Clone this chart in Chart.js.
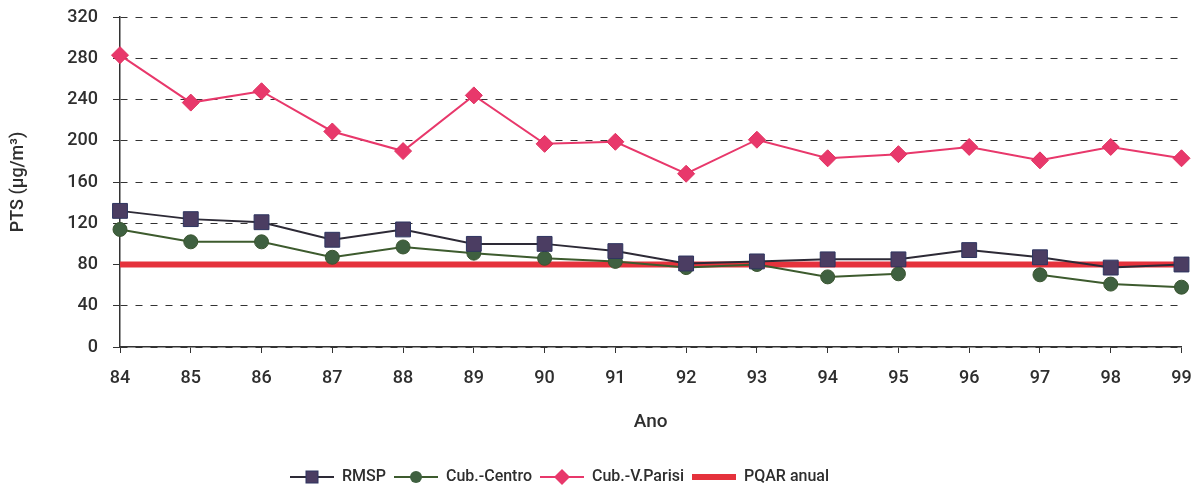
<!DOCTYPE html>
<html>
<head>
<meta charset="utf-8">
<script src="https://cdn.jsdelivr.net/npm/chart.js@4.4.1/dist/chart.umd.min.js"></script>
<style>
  html, body { margin: 0; padding: 0; background: #fff; }
  #wrap { width: 1193px; height: 490px; }
</style>
</head>
<body>
<div id="wrap"><canvas id="ptsChart"></canvas></div>
<script>
const years = ['84', '85', '86', '87', '88', '89', '90', '91', '92', '93', '94', '95', '96', '97', '98', '99'];
const rmsp = [132, 124, 121, 104, 114, 100, 100, 93, 81, 83, 85, 85, 94, 87, 77, 80];
const cubCentro = [114, 102, 102, 87, 97, 91, 86, 83, 77, 80, 68, 71, null, 70, 61, 58];
const cubParisi = [283, 237, 248, 209, 190, 244, 197, 199, 168, 201, 183, 187, 194, 181, 194, 183];
const pqar = [80, 80, 80, 80, 80, 80, 80, 80, 80, 80, 80, 80, 80, 80, 80, 80];
const yTicks = [0, 40, 80, 120, 160, 200, 240, 280, 320];

const textColor = '#2e2e2e';
const fontFamily = 'Roboto, "Noto Sans", sans-serif';

// small canvas used as legend symbol: a line with the marker on it
function legendIcon(lineColor, lineWidth, marker) {
    const c = document.createElement('canvas');
    c.width = 44;
    c.height = 18;
    const g = c.getContext('2d');
    g.strokeStyle = lineColor;
    g.lineWidth = lineWidth;
    g.beginPath();
    g.moveTo(0, 9);
    g.lineTo(44, 9);
    g.stroke();
    if (marker) marker(g);
    return c;
}

const icons = [
    legendIcon('#2d2a36', 2, g => {
        g.fillStyle = '#4b3d62';
        g.strokeStyle = '#2e3560';
        g.lineWidth = 1;
        g.fillRect(16, 3, 12, 12);
        g.strokeRect(16, 3, 12, 12);
    }),
    legendIcon('#3d5b2e', 2, g => {
        g.fillStyle = '#3f6040';
        g.beginPath();
        g.arc(22, 9, 6, 0, Math.PI * 2);
        g.fill();
    }),
    legendIcon('#e8386b', 2, g => {
        g.fillStyle = '#e8386b';
        g.beginPath();
        g.moveTo(22, 1);
        g.lineTo(30, 9);
        g.lineTo(22, 17);
        g.lineTo(14, 9);
        g.closePath();
        g.fill();
    }),
    legendIcon('#e5323c', 6, null)
];

const ctx = document.getElementById('ptsChart').getContext('2d');

new Chart(ctx, {
    type: 'line',
    data: {
        labels: years,
        datasets: [
            {
                label: 'RMSP',
                data: rmsp,
                borderColor: '#2d2a36',
                borderWidth: 2,
                pointStyle: 'rect',
                pointRadius: 10.5,
                pointBackgroundColor: '#4b3d62',
                pointBorderColor: '#2e3560',
                pointBorderWidth: 1,
                tension: 0
            },
            {
                label: 'Cub.-Centro',
                data: cubCentro,
                borderColor: '#3d5b2e',
                borderWidth: 2,
                pointStyle: 'circle',
                pointRadius: 7,
                pointBackgroundColor: '#3f6040',
                pointBorderColor: '#3a5530',
                pointBorderWidth: 1,
                spanGaps: false,
                tension: 0
            },
            {
                label: 'Cub.-V.Parisi',
                data: cubParisi,
                borderColor: '#e8386b',
                borderWidth: 2,
                pointStyle: 'rectRot',
                pointRadius: 8.5,
                pointBackgroundColor: '#e8386b',
                pointBorderColor: '#e0305f',
                pointBorderWidth: 1,
                tension: 0
            },
            {
                label: 'PQAR anual',
                data: pqar,
                borderColor: '#e5323c',
                borderWidth: 6,
                pointRadius: 0,
                tension: 0
            }
        ]
    },
    options: {
        responsive: true,
        maintainAspectRatio: false,
        animation: false,
        layout: {
            padding: { top: 17, right: 10, left: 0, bottom: 0 }
        },
        plugins: {
            tooltip: { enabled: false },
            legend: {
                position: 'bottom',
                align: 'start',
                labels: {
                    usePointStyle: true,
                    pointStyleWidth: 44,
                    padding: 8,
                    color: textColor,
                    font: { family: fontFamily, size: 16, weight: '500' },
                    generateLabels: function (chart) {
                        return chart.data.datasets.map((ds, i) => ({
                            text: ds.label,
                            pointStyle: icons[i],
                            fontColor: textColor,
                            lineWidth: 0,
                            datasetIndex: i
                        }));
                    }
                }
            }
        },
        scales: {
            x: {
                offset: false,
                grid: {
                    drawOnChartArea: false,
                    drawTicks: true,
                    tickLength: 6,
                    color: '#333'
                },
                border: { color: '#333', width: 1.5 },
                ticks: {
                    color: textColor,
                    padding: 15,
                    maxRotation: 0,
                    font: { family: fontFamily, size: 18, weight: '500' }
                },
                title: {
                    display: true,
                    text: 'Ano',
                    color: textColor,
                    padding: { top: 0, bottom: 22 },
                    font: { family: fontFamily, size: 19, weight: '500' }
                },
                afterFit: function (scale) {
                    scale.height = 109;
                    scale.paddingLeft = 0;
                    scale.paddingRight = 0;
                }
            },
            y: {
                min: 0,
                max: 320,
                afterBuildTicks: function (scale) {
                    scale.ticks = yTicks.map(v => ({ value: v }));
                },
                grid: {
                    color: '#333',
                    lineWidth: 1,
                    tickLength: 7,
                    tickColor: '#333',
                    tickBorderDash: []
                },
                border: { color: '#333', width: 1.5, dash: [7, 8] },
                ticks: {
                    color: textColor,
                    padding: 15,
                    font: { family: fontFamily, size: 18, weight: '500' }
                },
                title: {
                    display: true,
                    text: 'PTS (µg/m³)',
                    color: textColor,
                    padding: { top: 8, bottom: 0 },
                    font: { family: fontFamily, size: 18, weight: '500' }
                },
                afterFit: function (scale) {
                    scale.width = 120;
                    scale.paddingTop = 0;
                    scale.paddingBottom = 0;
                }
            }
        }
    },
    plugins: [{
        id: 'legendShift',
        afterLayout: function (chart) {
            // legend starts near x=290 and sits a little lower in the reference
            const lg = chart.legend;
            const shift = 290 - lg.options.labels.padding - lg.left;
            lg.left += shift;
            lg.right += shift;
            lg.top += 5;
            lg.bottom += 5;
        }
    }]
});
</script>
</body>
</html>
